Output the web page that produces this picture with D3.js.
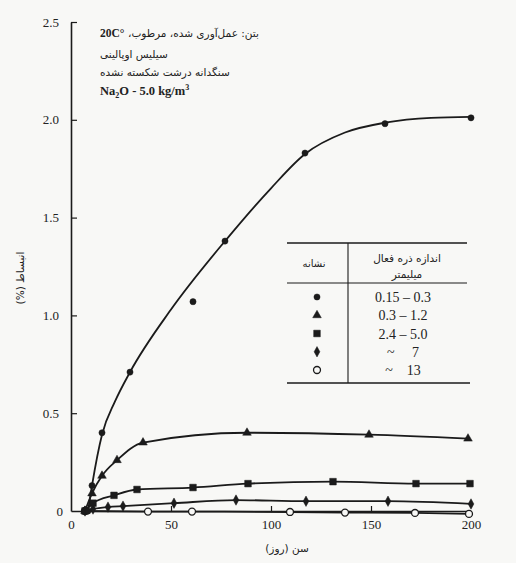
<!DOCTYPE html>
<html>
<head>
<meta charset="utf-8">
<script src="https://cdn.jsdelivr.net/npm/d3@7"></script>
<style>
  html, body { margin: 0; padding: 0; background: #f8f8f6; }
  svg { display: block; }
  .serif { font-family: "Liberation Serif", "DejaVu Serif", serif; }
  .fa { font-family: "DejaVu Sans", "Noto Sans", sans-serif; }
</style>
</head>
<body>
<svg id="chart" width="516" height="563"></svg>
<script>
// Expansion (%) vs. age (days) for five reactive-particle size ranges.
const xTicks = [0, 50, 100, 150, 200];
const yTicks = [0, 0.5, 1.0, 1.5, 2.0, 2.5];
const yTickLabels = ["0", "0.5", "1.0", "1.5", "2.0", "2.5"];

// Measured points, one array per size range
const fineDays   = [8.5, 10.5, 15.5, 29.5, 61, 77, 117, 157, 200];
const fineExp    = [0, 0.13, 0.40, 0.71, 1.07, 1.38, 1.83, 1.98, 2.01];
const smallDays  = [7, 10.5, 15.5, 23, 36, 88, 149, 198.5];
const smallExp   = [0, 0.09, 0.18, 0.26, 0.35, 0.40, 0.39, 0.37];
const mediumDays = [7, 11, 21.5, 33, 61, 88.5, 131, 172.5, 199.5];
const mediumExp  = [0, 0.04, 0.08, 0.11, 0.12, 0.14, 0.15, 0.14, 0.14];
const coarseDays = [7, 11, 18.5, 26, 51.5, 82.5, 117.5, 158.5, 200];
const coarseExp  = [0, 0.01, 0.02, 0.025, 0.04, 0.056, 0.05, 0.05, 0.036];
const largeDays  = [7, 38.5, 60.5, 109.5, 137, 172, 199];
const largeExp   = [0, -0.003, -0.003, -0.005, -0.008, -0.01, -0.015];

// Smoothed trend curve for the finest range (passes beside the 61-day point)
const fineCurveDays = [8.5, 10.5, 15.5, 22, 29.5, 50, 77, 100, 117, 137, 157, 180, 200];
const fineCurveExp  = [0, 0.13, 0.39, 0.56, 0.71, 1.03, 1.38, 1.65, 1.825, 1.935, 1.985, 2.01, 2.015];

// Legend rows
const sizeLabels = ["0.15 \u2013 0.3", "0.3 \u2013 1.2", "2.4 \u2013 5.0", "~     7", "~    13"];
const markerKinds = ["dot", "triangle", "square", "diamond", "ring"];

const svg = d3.select("#chart");
const x = d3.scaleLinear().domain([0, 200]).range([71, 471]);
const y = d3.scaleLinear().domain([0, 2.5]).range([511, 22]);
const ink = "#1b1b1b";
const paper = "#f8f8f6";

// Tall narrow diamond marker
const tallDiamond = {
  draw(ctx, size) {
    const h = Math.sqrt(size) * 0.95, w = h * 0.55;
    ctx.moveTo(0, -h); ctx.lineTo(w, 0); ctx.lineTo(0, h); ctx.lineTo(-w, 0); ctx.closePath();
  }
};
const markerPath = {
  dot: d3.symbol(d3.symbolCircle, 30)(),
  triangle: d3.symbol(d3.symbolTriangle, 32)(),
  square: d3.symbol(d3.symbolSquare, 44)(),
  diamond: d3.symbol(tallDiamond, 30)(),
  ring: d3.symbol(d3.symbolCircle, 38)()
};

// Axes
const yAxis = d3.axisLeft(y).tickValues(yTicks).tickSize(-6).tickSizeOuter(0).tickPadding(12)
  .tickFormat((d, i) => yTickLabels[i]);
const xAxis = d3.axisBottom(x).tickValues(xTicks).tickSize(-5).tickSizeOuter(0).tickPadding(9)
  .tickFormat(d3.format("d"));

const gy = svg.append("g").attr("transform", "translate(71,0)").call(yAxis);
const gx = svg.append("g").attr("transform", "translate(0,511)").call(xAxis);
[gx, gy].forEach(g => {
  g.select(".domain").attr("stroke", ink).attr("stroke-width", 1.6);
  g.selectAll(".tick line").attr("stroke", ink).attr("stroke-width", 1.2);
  g.selectAll(".tick text").attr("class", "serif").attr("font-size", 13).attr("fill", "#222");
});
gx.selectAll(".tick").filter(d => d === 0 || d === 200).select("line").remove();
gy.selectAll(".tick").filter(d => d === 0).select("line").remove();
gy.selectAll(".tick").filter(d => d === 0).select("text").attr("x", -8);

// Series
const series = [
  { kind: "dot",      days: fineDays,   exp: fineExp,   cDays: fineCurveDays, cExp: fineCurveExp },
  { kind: "triangle", days: smallDays,  exp: smallExp },
  { kind: "square",   days: mediumDays, exp: mediumExp },
  { kind: "diamond",  days: coarseDays, exp: coarseExp },
  { kind: "ring",     days: largeDays,  exp: largeExp }
];

const line = d3.line().x(d => x(d[0])).y(d => y(d[1])).curve(d3.curveMonotoneX);

series.forEach(s => {
  const cd = s.cDays || s.days, ce = s.cExp || s.exp;
  svg.append("path")
    .attr("d", line(cd.map((d, i) => [d, ce[i]])))
    .attr("fill", "none").attr("stroke", ink).attr("stroke-width", 1.8);
});

// Open markers first so the filled ones sit on top where they overlap at the start
series.slice().reverse().forEach(s => {
  svg.append("g").selectAll("path")
    .data(s.days.map((d, i) => [d, s.exp[i]]))
    .join("path")
    .attr("transform", d => `translate(${x(d[0])},${y(d[1])})`)
    .attr("d", markerPath[s.kind])
    .attr("fill", s.kind === "ring" ? paper : ink)
    .attr("stroke", ink)
    .attr("stroke-width", s.kind === "ring" ? 1.3 : 0.5);
});

// Axis titles
svg.append("text").attr("class", "fa").attr("x", 287).attr("y", 552)
  .attr("text-anchor", "middle").attr("direction", "rtl").attr("font-size", 10.5).attr("fill", "#222")
  .text("سن (روز)");
svg.append("text").attr("class", "fa")
  .attr("transform", "translate(24,278) rotate(-90)")
  .attr("text-anchor", "middle").attr("direction", "rtl").attr("font-size", 10.5).attr("fill", "#222")
  .text("انبساط (%)");

// Test conditions note
const note = svg.append("g").attr("fill", "#222");
note.append("text").attr("x", 100).attr("y", 37).attr("class", "serif")
  .attr("font-size", 11.5).attr("font-weight", 700).text("20C°");
note.append("text").attr("x", 128).attr("y", 37).attr("class", "fa")
  .attr("direction", "rtl").attr("text-anchor", "end").attr("font-size", 10.5)
  .text("بتن: عمل‌آوری شده، مرطوب،");
note.append("text").attr("x", 100).attr("y", 58).attr("class", "fa")
  .attr("direction", "rtl").attr("text-anchor", "end").attr("font-size", 10.5).text("سیلیس اوپالینی");
note.append("text").attr("x", 100).attr("y", 76).attr("class", "fa")
  .attr("direction", "rtl").attr("text-anchor", "end").attr("font-size", 10.5).text("سنگدانه درشت شکسته نشده");
const l4 = note.append("text").attr("x", 100).attr("y", 95).attr("class", "serif")
  .attr("font-size", 12.5).attr("font-weight", 700);
l4.append("tspan").text("Na");
l4.append("tspan").attr("dy", 3).attr("font-size", 8).text("2");
l4.append("tspan").attr("dy", -3).text("O - 5.0 kg/m");
l4.append("tspan").attr("dy", -5).attr("font-size", 8).text("3");

// Legend table
const lg = svg.append("g");
const rule = (x1, y1, x2, y2, w) => lg.append("line").attr("x1", x1).attr("y1", y1)
  .attr("x2", x2).attr("y2", y2).attr("stroke", ink).attr("stroke-width", w);
rule(287, 243, 467, 243, 1.3);
rule(287, 283, 467, 283, 1.1);
rule(287, 383, 470, 383, 1.3);
rule(348, 243, 348, 383, 1.1);
lg.append("text").attr("class", "fa").attr("x", 314).attr("y", 267).attr("text-anchor", "middle")
  .attr("direction", "rtl").attr("font-size", 10).attr("fill", "#222").text("نشانه");
lg.append("text").attr("class", "fa").attr("x", 407).attr("y", 262).attr("text-anchor", "middle")
  .attr("direction", "rtl").attr("font-size", 10.5).attr("fill", "#222").text("اندازه ذره فعال");
lg.append("text").attr("class", "fa").attr("x", 407).attr("y", 278).attr("text-anchor", "middle")
  .attr("direction", "rtl").attr("font-size", 10.5).attr("fill", "#222").text("میلیمتر");

const rowY = d3.scalePoint().domain(d3.range(sizeLabels.length)).range([297, 370]);
sizeLabels.forEach((lab, i) => {
  lg.append("path").attr("transform", `translate(317,${rowY(i)})`)
    .attr("d", markerPath[markerKinds[i]])
    .attr("fill", markerKinds[i] === "ring" ? paper : ink)
    .attr("stroke", ink).attr("stroke-width", markerKinds[i] === "ring" ? 1.3 : 0.5);
  lg.append("text").attr("class", "serif").attr("x", 403).attr("y", rowY(i) + 5)
    .attr("text-anchor", "middle").attr("font-size", 14).attr("fill", "#222")
    .style("white-space", "pre").text(lab);
});
</script>
</body>
</html>
